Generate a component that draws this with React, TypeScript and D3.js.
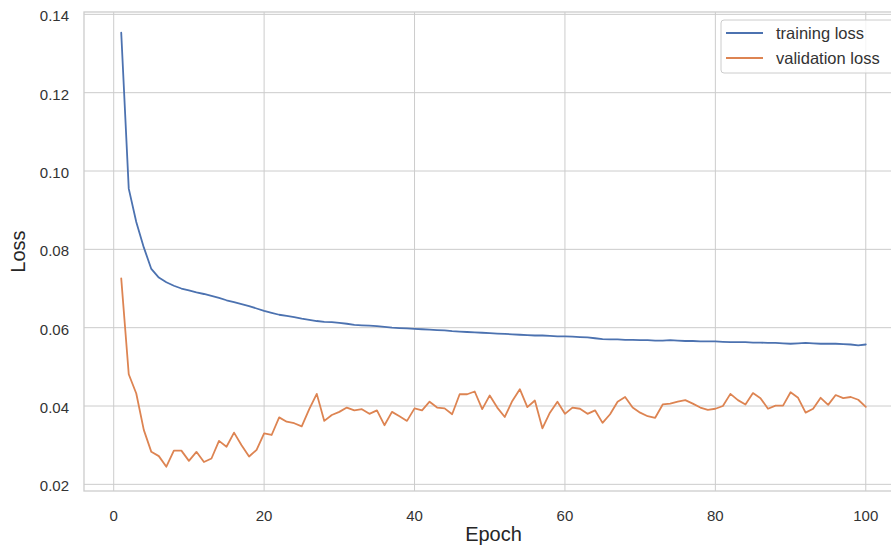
import { useEffect, useRef } from 'react';
import * as d3 from 'd3';

const epochs = d3.range(1, 101);

const trainingLoss = [
  0.1353, 0.0955, 0.087, 0.0805, 0.075, 0.0728, 0.0716, 0.0707, 0.07, 0.0695,
  0.069, 0.0686, 0.0681, 0.0676, 0.067, 0.0665, 0.066, 0.0655, 0.0649, 0.0643,
  0.0638, 0.0633, 0.063, 0.0627, 0.0623, 0.062, 0.0617, 0.0615, 0.0614, 0.0612,
  0.061, 0.0607, 0.0606, 0.0605, 0.0604, 0.0602, 0.06, 0.0599, 0.0598, 0.0597,
  0.0596, 0.0595, 0.0594, 0.0593, 0.0591, 0.059, 0.0589, 0.0588, 0.0587, 0.0586,
  0.0585, 0.0584, 0.0583, 0.0582, 0.0581, 0.058, 0.058, 0.0579, 0.0578, 0.0578,
  0.0577, 0.0576, 0.0575, 0.0573, 0.0571, 0.057, 0.057, 0.0569, 0.0569, 0.0568,
  0.0568, 0.0567, 0.0567, 0.0568, 0.0567, 0.0566, 0.0566, 0.0565, 0.0565, 0.0565,
  0.0564, 0.0563, 0.0563, 0.0563, 0.0562, 0.0562, 0.0561, 0.0561, 0.056, 0.0559,
  0.056, 0.0561, 0.056, 0.0559, 0.0559, 0.0559, 0.0558, 0.0557, 0.0555, 0.0557,
];

const validationLoss = [
  0.0726, 0.0481, 0.0432, 0.0339, 0.0283, 0.0272, 0.0245, 0.0286, 0.0286, 0.026,
  0.0283, 0.0257, 0.0266, 0.0311, 0.0296, 0.0332, 0.03, 0.0271, 0.0288, 0.033,
  0.0326, 0.0371, 0.036, 0.0356, 0.0348, 0.0392, 0.0431, 0.0362, 0.0377, 0.0385,
  0.0396, 0.0389, 0.0392, 0.038, 0.0389, 0.0351, 0.0385, 0.0374, 0.0362, 0.0394,
  0.0389, 0.0411, 0.0396, 0.0394, 0.0379, 0.043, 0.043, 0.0437, 0.0392, 0.0427,
  0.0396, 0.0372, 0.0413, 0.0443, 0.0397, 0.0414, 0.0343, 0.0383, 0.0411, 0.038,
  0.0396, 0.0393, 0.038, 0.0389, 0.0357, 0.0379, 0.0411, 0.0423, 0.0396, 0.0383,
  0.0374, 0.037, 0.0404, 0.0406, 0.0411, 0.0415, 0.0406, 0.0396, 0.039, 0.0393,
  0.04, 0.0431, 0.0415, 0.0404, 0.0433, 0.042, 0.0393, 0.0401, 0.0401, 0.0435,
  0.0421, 0.0383, 0.0393, 0.0421, 0.0403, 0.0428, 0.042, 0.0423, 0.0416, 0.0398,
];

const xTicks = [0, 20, 40, 60, 80, 100];
const yTicks = [0.02, 0.04, 0.06, 0.08, 0.1, 0.12, 0.14];
const seriesNames = ['training loss', 'validation loss'];
const seriesColors = ['#4c72b0', '#dd8452'];

const W = 891;
const H = 549;
const FONT = '"Liberation Sans", Arial, sans-serif';

export default function App() {
  const svgRef = useRef<SVGSVGElement>(null);

  useEffect(() => {
    document.body.style.margin = '0';
    const svg = d3.select(svgRef.current);
    svg.selectAll('*').remove();

    const left = 84;
    const right = 903;
    const top = 12;
    const bottom = 491;

    const x = d3.scaleLinear().domain([-3.95, 104.95]).range([left, right]);
    const y = d3.scaleLinear().domain([0.0183, 0.1406]).range([bottom, top]);

    svg.append('rect').attr('width', W).attr('height', H).attr('fill', '#fff');

    // Grid
    const grid = svg.append('g').attr('stroke', '#cccccc').attr('stroke-width', 1);
    grid.selectAll('.gx')
      .data(xTicks)
      .enter()
      .append('line')
      .attr('x1', (d) => x(d))
      .attr('x2', (d) => x(d))
      .attr('y1', top)
      .attr('y2', bottom);
    grid.selectAll('.gy')
      .data(yTicks)
      .enter()
      .append('line')
      .attr('x1', left)
      .attr('x2', right)
      .attr('y1', (d) => y(d))
      .attr('y2', (d) => y(d));

    // Frame
    svg.append('rect')
      .attr('x', left)
      .attr('y', top)
      .attr('width', right - left)
      .attr('height', bottom - top)
      .attr('fill', 'none')
      .attr('stroke', '#cccccc')
      .attr('stroke-width', 1.3);

    // Tick labels
    svg.selectAll('.yt')
      .data(yTicks)
      .enter()
      .append('text')
      .attr('x', 69)
      .attr('y', (d) => y(d) + 1.5)
      .attr('text-anchor', 'end')
      .attr('dominant-baseline', 'central')
      .style('font-family', FONT)
      .style('font-size', '15px')
      .style('fill', '#333')
      .text((d) => d3.format('.2f')(d));

    svg.selectAll('.xt')
      .data(xTicks)
      .enter()
      .append('text')
      .attr('x', (d) => x(d))
      .attr('y', 521)
      .attr('text-anchor', 'middle')
      .style('font-family', FONT)
      .style('font-size', '15px')
      .style('fill', '#333')
      .text((d) => String(d));

    // Axis labels
    svg.append('text')
      .attr('x', (left + right) / 2)
      .attr('y', 541)
      .attr('text-anchor', 'middle')
      .style('font-family', FONT)
      .style('font-size', '20px')
      .style('fill', '#262626')
      .text('Epoch');

    svg.append('text')
      .attr('transform', `translate(25,${(top + bottom) / 2}) rotate(-90)`)
      .attr('text-anchor', 'middle')
      .style('font-family', FONT)
      .style('font-size', '20px')
      .style('fill', '#262626')
      .text('Loss');

    // Lines
    const line = d3
      .line<number>()
      .x((_, i) => x(epochs[i]))
      .y((d) => y(d));

    [trainingLoss, validationLoss].forEach((series, i) => {
      svg.append('path')
        .datum(series)
        .attr('fill', 'none')
        .attr('stroke', seriesColors[i])
        .attr('stroke-width', 1.8)
        .attr('stroke-linejoin', 'round')
        .attr('stroke-linecap', 'round')
        .attr('d', line);
    });

    // Legend
    const lg = svg.append('g').attr('transform', 'translate(721,20)');
    lg.append('rect')
      .attr('width', 175)
      .attr('height', 53)
      .attr('rx', 3)
      .attr('fill', 'rgba(255,255,255,0.8)')
      .attr('stroke', '#cccccc')
      .attr('stroke-width', 1);
    seriesNames.forEach((name, i) => {
      const cy = 13 + i * 25;
      lg.append('line')
        .attr('x1', 5)
        .attr('x2', 42)
        .attr('y1', cy)
        .attr('y2', cy)
        .attr('stroke', seriesColors[i])
        .attr('stroke-width', 1.8);
      lg.append('text')
        .attr('x', 55)
        .attr('y', cy)
        .attr('dominant-baseline', 'central')
        .style('font-family', FONT)
        .style('font-size', '16.5px')
        .style('fill', '#333')
        .text(name);
    });
  }, []);

  return <svg ref={svgRef} width={W} height={H} style={{ display: 'block' }} />;
}
